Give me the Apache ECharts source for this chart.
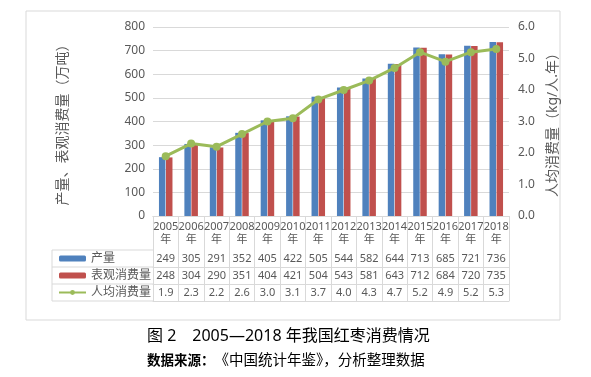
<!DOCTYPE html>
<html><head><meta charset="utf-8">
<script src="https://cdn.jsdelivr.net/npm/echarts@6/dist/echarts.min.js"></script>
<style>html,body{margin:0;padding:0;background:#fff}#c{width:591px;height:377px}</style>
</head><body><div id="c"></div>
<script>
const years = ['2005','2006','2007','2008','2009','2010','2011','2012','2013','2014','2015','2016','2017','2018'];
const production = [249,305,291,352,405,422,505,544,582,644,713,685,721,736];
const consumption = [248,304,290,351,404,421,504,543,581,643,712,684,720,735];
const perCapita = [1.9,2.3,2.2,2.6,3.0,3.1,3.7,4.0,4.3,4.7,5.2,4.9,5.2,5.3];
const seriesNames = ['产量','表观消费量','人均消费量'];
const leftName = '产量、表观消费量（万吨）';
const rightName = '人均消费量（kg/人.年）';
const titleText = '图 2　2005—2018 年我国红枣消费情况';

const FONT = '"Noto Sans","Noto Sans CJK SC",sans-serif';
const GRAY = '#595959';
const LINE = '#d9d9d9';
const COLORS = ['#4F81BD','#C0504D','#9BBB59'];

// layout
const W = 591, H = 377;
const gridL = 153, gridR = 509, gridT = 27, gridB = 216;
const headerH = 34, rowH = 17;
const legendColL = 52;

const fmt1 = v => Number(v).toFixed(1);
const rowAxis = (data, off, showLabel) => ({
  type: 'category', gridIndex: 0, position: 'bottom', offset: off, data: data,
  axisLine: {show: true, lineStyle: {color: LINE, width: 1}},
  axisTick: {show: false},
  axisLabel: {show: showLabel, interval: 0, margin: 3, fontSize: 11, color: GRAY, fontFamily: FONT},
  splitLine: {show: false}
});

const tableGraphics = [];
for (let i = 0; i < 4; i++) {
  const y = gridB + headerH + i * rowH;
  tableGraphics.push({type: 'line', shape: {x1: legendColL, y1: y, x2: gridL, y2: y}, style: {stroke: LINE, lineWidth: 1}});
}
tableGraphics.push({type: 'line', shape: {x1: legendColL, y1: gridB + headerH, x2: legendColL, y2: gridB + headerH + 3 * rowH}, style: {stroke: LINE, lineWidth: 1}});

const chart = echarts.init(document.getElementById('c'), null, {renderer: 'canvas'});
chart.setOption({
  animation: false,
  textStyle: {fontFamily: FONT},
  title: [
    {text: titleText, left: 147, top: 328, padding: 0, textStyle: {fontSize: 16, fontWeight: 'normal', color: '#000', fontFamily: FONT}},
    {text: '{b|数据来源：}{n|《中国统计年鉴》，分析整理数据}', left: 147, top: 354, padding: 0,
     textStyle: {rich: {
       b: {fontSize: 13.5, fontWeight: 'bold', color: '#000', fontFamily: FONT},
       n: {fontSize: 14.5, fontWeight: 'normal', color: '#000', fontFamily: FONT}
     }}}
  ],
  graphic: [
    {type: 'rect', shape: {x: 26, y: 11, width: 534, height: 309}, style: {fill: 'none', stroke: LINE, lineWidth: 1}},
    ...tableGraphics
  ],
  legend: {
    orient: 'vertical', left: 58, top: gridB + headerH + 1.5, padding: 0, itemWidth: 27, itemHeight: 6, itemGap: 3,
    textStyle: {fontSize: 12, color: GRAY, lineHeight: 14, fontFamily: FONT},
    data: seriesNames
  },
  grid: {left: gridL, right: W - gridR, top: gridT, bottom: H - gridB, containLabel: false},
  xAxis: [
    {type: 'category', data: years,
     axisLine: {show: true, lineStyle: {color: LINE}},
     axisTick: {show: true, interval: 0, length: headerH + 3 * rowH, lineStyle: {color: LINE}},
     axisLabel: {interval: 0, margin: 4, fontSize: 11, color: GRAY, lineHeight: 13, fontFamily: FONT,
                 formatter: v => v + '\n年'}},
    rowAxis(production.map(String), headerH, true),
    rowAxis(consumption.map(String), headerH + rowH, true),
    rowAxis(perCapita.map(fmt1), headerH + 2 * rowH, true),
    rowAxis(years, headerH + 3 * rowH, false)
  ],
  yAxis: [
    {type: 'value', min: 0, max: 800, interval: 100,
     name: leftName, nameLocation: 'middle', nameGap: 83, nameRotate: 90,
     nameTextStyle: {fontSize: 14, color: GRAY, fontFamily: FONT},
     axisLine: {show: false}, axisTick: {show: false},
     axisLabel: {fontSize: 12, color: GRAY, margin: 8, fontFamily: FONT},
     splitLine: {lineStyle: {color: LINE}}},
    {type: 'value', min: 0, max: 6, interval: 1, position: 'right',
     name: rightName, nameLocation: 'middle', nameGap: 30, nameRotate: 90,
     nameTextStyle: {fontSize: 14, color: GRAY, fontFamily: FONT},
     axisLine: {show: false}, axisTick: {show: false},
     axisLabel: {fontSize: 12, color: GRAY, margin: 9, formatter: fmt1, fontFamily: FONT},
     splitLine: {show: false}}
  ],
  series: [
    {name: seriesNames[0], type: 'bar', xAxisIndex: 0, yAxisIndex: 0, data: production,
     barWidth: 6.5, barGap: '8%', itemStyle: {color: COLORS[0]}},
    {name: seriesNames[1], type: 'bar', xAxisIndex: 0, yAxisIndex: 0, data: consumption,
     barWidth: 6.5, barGap: '8%', itemStyle: {color: COLORS[1]}},
    {name: seriesNames[2], type: 'line', xAxisIndex: 0, yAxisIndex: 1, data: perCapita,
     symbol: 'circle', symbolSize: 8, itemStyle: {color: COLORS[2]}, lineStyle: {color: COLORS[2], width: 3}, z: 5}
  ]
});
</script></body></html>
